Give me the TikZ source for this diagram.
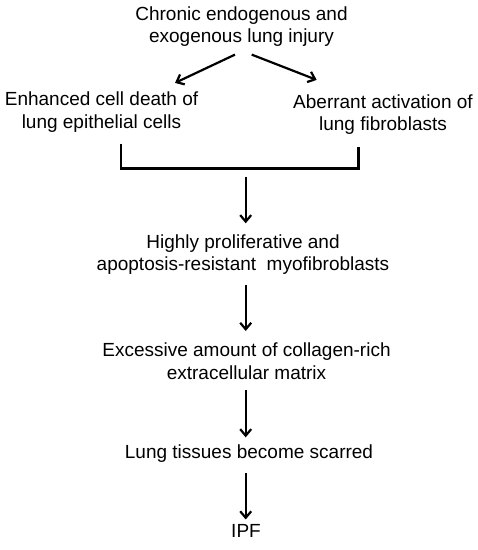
\documentclass[tikz,border=0pt]{standalone}
\usepackage{fontspec}
\setmainfont{Liberation Sans}
\usetikzlibrary{arrows.meta,calc}
\begin{document}
\begin{tikzpicture}[x=1pt,y=-1pt,
  txt/.style={align=center,inner sep=0pt,text=black,font=\fontsize{19}{22.5}\selectfont},
  arr/.style={line width=2.2pt,-{Straight Barb[length=6.5pt,width=11pt,line width=2.2pt]}},
  brk/.style={line width=2.4pt,line cap=butt,line join=miter}]
\useasboundingbox (0,0) rectangle (478,550);
\node[txt] (top) at (241.5,26.8) {Chronic endogenous and\\exogenous lung injury};
\node[txt] (left) at (101.5,112.2) {Enhanced cell death of\\lung epithelial cells};
\node[txt] (right) at (383,114.6) {Aberrant activation of\\lung fibroblasts};
\node[txt] (myo) at (243,254.6) {Highly proliferative and\\apoptosis-resistant\ \ myofibroblasts};
\node[txt] (ecm) at (246.5,361.4) {Excessive amount of collagen-rich\\extracellular matrix};
\node[txt] (scar) at (249,453.4) {Lung tissues become scarred};
\node[txt] (ipf) at (246,531.2) {IPF};
% diagonal arrows
\draw[arr] ($(top.south)+(-6.5,7.5)$) -- ($(left.north)+(73.5,-9)$);
\draw[arr] ($(top.south)+(10.2,7.5)$) -- ($(right.north)+(-66.3,-14.4)$);
% bracket
\coordinate (bl) at ($(left.south)+(19.2,11)$);
\coordinate (br) at ($(right.south)+(-24.7,12)$);
\coordinate (bm) at (245.7,168.3);
\draw[brk] (bl) |- (bm) -| (br);
% vertical arrows along one axis
\draw[arr] ($(bm)+(0,8.4)$) -- ($(bm |- myo.north)+(0,-11)$);
\draw[arr] ($(bm |- myo.south)+(0,10)$) -- ($(bm |- ecm.north)+(0,-12)$);
\draw[arr] ($(bm |- ecm.south)+(0,10)$) -- ($(bm |- scar.north)+(0,-7)$);
\draw[arr] ($(bm |- scar.south)+(0,11)$) -- ($(bm |- ipf.north)+(0,-5)$);
\end{tikzpicture}
\end{document}
